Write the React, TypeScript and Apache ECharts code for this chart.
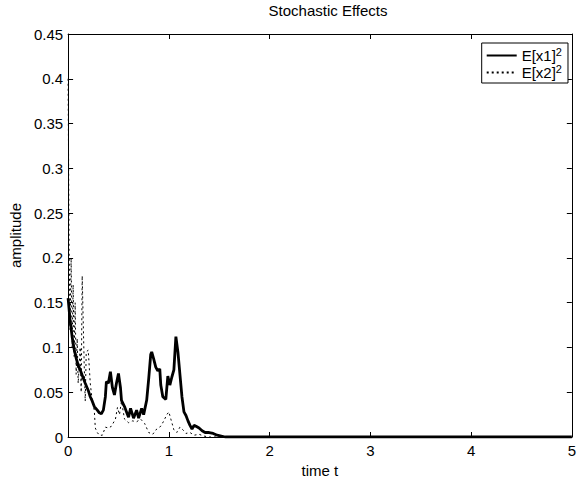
import React, { useEffect, useRef } from "react";
import * as echarts from "echarts";

const xTicks = [0, 1, 2, 3, 4, 5];
const yTicks = [0, 0.05, 0.1, 0.15, 0.2, 0.25, 0.3, 0.35, 0.4, 0.45];

const tX1 = [
  0.0, 0.02, 0.04, 0.06, 0.08, 0.1, 0.12, 0.15, 0.17, 0.2, 0.22, 0.24, 0.26, 0.29, 0.31, 0.33, 0.35, 0.37,
  0.38, 0.4, 0.42, 0.44, 0.46, 0.48, 0.5, 0.52, 0.53, 0.56, 0.58, 0.6, 0.62, 0.65, 0.68, 0.7, 0.73, 0.75,
  0.78, 0.8, 0.82, 0.83, 0.85, 0.87, 0.89, 0.91, 0.92, 0.94, 0.97, 0.99, 1.01, 1.03, 1.05, 1.07, 1.09,
  1.11, 1.13, 1.15, 1.17, 1.19, 1.21, 1.23, 1.25, 1.27, 1.3, 1.33, 1.36, 1.4, 1.44, 1.48, 1.52, 1.56, 5.0,
];
const x1 = [
  0.155, 0.13, 0.112, 0.098, 0.088, 0.08, 0.075, 0.066, 0.06, 0.052, 0.045, 0.04, 0.034, 0.03, 0.027, 0.026,
  0.03, 0.045, 0.062, 0.06, 0.073, 0.055, 0.047, 0.06, 0.071, 0.055, 0.041, 0.034, 0.028, 0.022, 0.032,
  0.021, 0.03, 0.021, 0.032, 0.025, 0.041, 0.065, 0.092, 0.095, 0.087, 0.078, 0.074, 0.076, 0.058, 0.045,
  0.042, 0.068, 0.058, 0.067, 0.075, 0.112, 0.095, 0.07, 0.045, 0.028, 0.024, 0.018, 0.013, 0.009, 0.013,
  0.012, 0.01, 0.007, 0.005, 0.005, 0.004, 0.002, 0.001, 0.0, 0.0,
];

const tX2 = [
  0.0, 0.01, 0.02, 0.03, 0.04, 0.05, 0.06, 0.07, 0.08, 0.09, 0.1, 0.12, 0.13, 0.14, 0.16, 0.17, 0.18, 0.2,
  0.22, 0.24, 0.26, 0.27, 0.29, 0.31, 0.34, 0.37, 0.4, 0.43, 0.47, 0.49, 0.51, 0.53, 0.56, 0.6, 0.64, 0.68,
  0.72, 0.76, 0.8, 0.84, 0.88, 0.92, 0.95, 0.98, 1.0, 1.02, 1.05, 1.08, 1.11, 1.14, 1.17, 1.21, 1.25, 1.3,
  1.35, 1.4, 5.0,
];
const x2 = [
  0.4, 0.21, 0.12, 0.2, 0.1, 0.17, 0.09, 0.15, 0.07, 0.11, 0.06, 0.1, 0.05, 0.18, 0.08, 0.04, 0.095, 0.097,
  0.06, 0.04, 0.03, 0.01, 0.005, 0.002, 0.002, 0.011, 0.01, 0.012, 0.02, 0.033, 0.025, 0.04, 0.02, 0.016,
  0.018, 0.017, 0.02, 0.015, 0.005, 0.003, 0.009, 0.012, 0.018, 0.025, 0.028, 0.02, 0.008, 0.005, 0.011,
  0.008, 0.004, 0.005, 0.002, 0.003, 0.001, 0.0, 0.0,
];

const seriesNames = ["E[x1]", "E[x2]"];

export default function App() {
  const ref = useRef<HTMLDivElement>(null);
  useEffect(() => {
    document.body.style.margin = "0";
    const chart = echarts.init(ref.current!, null, { renderer: "svg" });
    const font = "Liberation Sans, Arial, Helvetica, sans-serif";
    const axisCommon = {
      type: "value" as const,
      axisLine: { show: true, onZero: false, lineStyle: { color: "#000", width: 1 } },
      axisTick: { show: true, inside: true, length: 5, lineStyle: { color: "#000" } },
      splitLine: { show: false },
    };
    chart.setOption({
      animation: false,
      backgroundColor: "#fff",
      textStyle: { fontFamily: font },
      title: {
        text: "Stochastic Effects",
        left: 323,
        textAlign: "center",
        top: -2,
        textStyle: { fontSize: 15, fontWeight: "normal", color: "#000", fontFamily: font },
      },
      grid: { left: 68, right: 1, top: 34, bottom: 46, containLabel: false },
      legend: {
        orient: "vertical",
        right: 11,
        top: 43,
        padding: [3, 6, 3, 4],
        itemGap: 0,
        itemWidth: 30,
        itemHeight: 14,
        borderColor: "#000",
        borderWidth: 1,
        backgroundColor: "#fff",
        itemStyle: { opacity: 0 },
        data: seriesNames,
        formatter: (n: string) => `{n|${n}}{s|2}`,
        textStyle: {
          color: "#000",
          fontFamily: font,
          rich: {
            n: { fontSize: 15, fontFamily: font, color: "#000", lineHeight: 19 },
            s: { fontSize: 11, fontFamily: font, color: "#000", verticalAlign: "top", lineHeight: 11 },
          },
        },
      },
      xAxis: [
        {
          ...axisCommon,
          min: 0,
          max: 5,
          interval: 1,
          position: "bottom",
          name: "time t",
          nameLocation: "middle",
          nameGap: 25,
          nameTextStyle: { fontSize: 15, color: "#000", fontFamily: font },
          axisLabel: {
            color: "#000",
            fontSize: 15,
            margin: 6,
            fontFamily: font,
            formatter: (v: number) => (xTicks.includes(v) ? String(v) : ""),
          },
        },
        { ...axisCommon, min: 0, max: 5, interval: 1, position: "top", axisLabel: { show: false } },
      ],
      yAxis: [
        {
          ...axisCommon,
          min: 0,
          max: 0.45,
          interval: 0.05,
          position: "left",
          name: "amplitude",
          nameLocation: "middle",
          nameGap: 44,
          nameTextStyle: { fontSize: 15, color: "#000", fontFamily: font },
          axisLabel: {
            color: "#000",
            fontSize: 15,
            margin: 5,
            fontFamily: font,
            formatter: (v: number) => {
              const m = yTicks.find((y) => Math.abs(y - v) < 1e-9);
              return m === undefined ? "" : String(m);
            },
          },
        },
        { ...axisCommon, min: 0, max: 0.45, interval: 0.05, position: "right", axisLabel: { show: false } },
      ],
      series: [
        {
          name: seriesNames[0],
          type: "line",
          xAxisIndex: 0,
          yAxisIndex: 0,
          data: tX1.map((t, i) => [t, x1[i]]),
          showSymbol: false,
          symbol: "none",
          lineStyle: { color: "#000", width: 2.8, type: "solid" },
          itemStyle: { color: "#000" },
        },
        {
          name: seriesNames[1],
          type: "line",
          xAxisIndex: 0,
          yAxisIndex: 0,
          data: tX2.map((t, i) => [t, x2[i]]),
          showSymbol: false,
          symbol: "none",
          lineStyle: { color: "#000", width: 1, type: [2, 3] },
          itemStyle: { color: "#000" },
        },
      ],
    });
    return () => chart.dispose();
  }, []);
  return <div ref={ref} style={{ width: 579, height: 483 }} />;
}
